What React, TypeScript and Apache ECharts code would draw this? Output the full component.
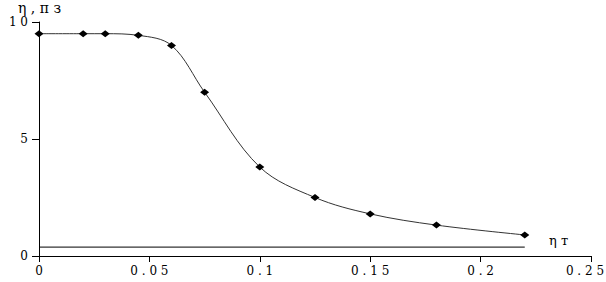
import React, { useEffect, useRef } from "react";
import * as echarts from "echarts";

const xValues = [0, 0.02, 0.03, 0.045, 0.06, 0.075, 0.1, 0.125, 0.15, 0.18, 0.22];
const yValues = [9.5, 9.5, 9.5, 9.43, 9.0, 7.0, 3.8, 2.5, 1.8, 1.32, 0.9];
const baseLine = [[0, 0.38], [0.22, 0.38]];
const xTicks = [0, 0.05, 0.1, 0.15, 0.2, 0.25];
const yTicks = [0, 5, 10];

const spaced = (v: number) => String(Number(v.toFixed(3))).split("").join(" ");
const font = "DejaVu Serif";

export default function App() {
  const ref = useRef<HTMLDivElement>(null);
  useEffect(() => {
    if (!ref.current) return;
    const chart = echarts.init(ref.current, undefined, { renderer: "svg" });
    const xMax = xTicks[xTicks.length - 1];
    chart.setOption({
      animation: false,
      backgroundColor: "#ffffff",
      grid: {
        left: 39,
        right: 15,
        top: 22,
        bottom: 26,
        containLabel: false,
        outerBoundsMode: "none",
      },
      xAxis: {
        type: "value",
        min: xTicks[0],
        max: xMax,
        interval: 0.05,
        axisLine: { show: true, onZero: false, lineStyle: { color: "#000", width: 1 } },
        axisTick: { show: true, inside: false, length: 6, lineStyle: { color: "#000" } },
        splitLine: { show: false },
        axisLabel: {
          color: "#000",
          fontFamily: font,
          fontSize: 12,
          margin: 9,
          formatter: (v: number) =>
            Math.abs(v - xMax) < 1e-9 ? `{last|${spaced(v)}}` : spaced(v),
          rich: {
            last: { fontFamily: font, fontSize: 12, color: "#000", padding: [0, 12, 0, 0] },
          },
        },
      },
      yAxis: {
        type: "value",
        min: yTicks[0],
        max: yTicks[yTicks.length - 1],
        interval: 5,
        axisLine: { show: true, lineStyle: { color: "#000", width: 1 } },
        axisTick: { show: true, length: 7, lineStyle: { color: "#000" } },
        splitLine: { show: false },
        axisLabel: {
          color: "#000",
          fontFamily: font,
          fontSize: 12,
          margin: 11,
          formatter: (v: number) => spaced(v),
        },
      },
      graphic: [
        {
          type: "text",
          left: 18,
          top: 1,
          style: { text: "η , п з", fontFamily: font, fontSize: 14, fill: "#000" },
        },
        {
          type: "text",
          left: 549,
          top: 234,
          style: { text: "η т", fontFamily: font, fontSize: 13, fill: "#000" },
        },
      ],
      series: [
        {
          type: "line",
          data: xValues.map((x, i) => [x, yValues[i]]),
          smooth: 0.35,
          symbol: "diamond",
          symbolSize: [9, 7],
          itemStyle: { color: "#000" },
          lineStyle: { color: "#333", width: 1 },
        },
        {
          type: "line",
          data: baseLine,
          symbol: "none",
          lineStyle: { color: "#000", width: 1 },
        },
      ],
    });
    return () => chart.dispose();
  }, []);
  return <div ref={ref} style={{ width: 606, height: 282, position: "absolute", left: 0, top: 0 }} />;
}
